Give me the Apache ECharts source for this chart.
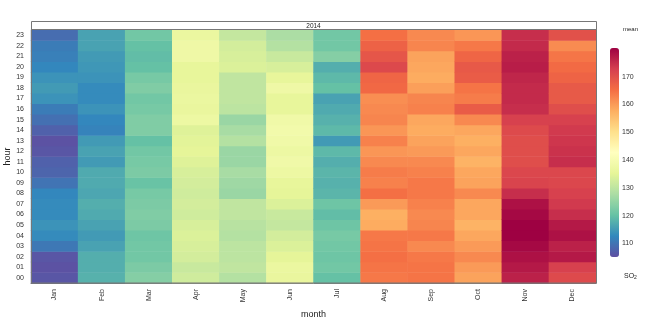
<!DOCTYPE html>
<html>
<head>
<meta charset="utf-8">
<script src="https://cdn.jsdelivr.net/npm/echarts@6/dist/echarts.min.js"></script>
<style>
  html, body { margin: 0; padding: 0; background: #fff; }
  #chart { width: 645px; height: 324px; }
</style>
</head>
<body>
<div id="chart"></div>
<script>
// Mean SO2 by hour of day (00..23) for each month of 2014
const months = ['Jan', 'Feb', 'Mar', 'Apr', 'May', 'Jun', 'Jul', 'Aug', 'Sep', 'Oct', 'Nov', 'Dec'];
const hours = ['00', '01', '02', '03', '04', '05', '06', '07', '08', '09', '10', '11',
               '12', '13', '14', '15', '16', '17', '18', '19', '20', '21', '22', '23'];

const jan = [106, 105.5, 106, 110.5, 113, 114, 113, 113, 112.5, 110, 108, 107.5,
             106, 105.5, 107.5, 109.5, 111, 114, 115, 114, 112.5, 111.5, 111, 109];
const feb = [118, 117.5, 117.5, 116, 115, 116, 117, 117.5, 116.5, 117, 117, 115,
             116, 115, 112, 112.5, 114, 113, 113, 114, 114.5, 115, 116, 116];
const mar = [123.5, 122.5, 121.5, 121.5, 121, 122.5, 123, 122.5, 122, 120.5, 122.5, 122,
             121.5, 120, 123, 123, 122, 121.5, 123, 122, 120, 119.5, 120, 121.5];
const apr = [132.3, 131.3, 132.8, 133.3, 133.8, 133.3, 132.3, 132.8, 132.3, 132.8, 133.3, 134.3,
             135.3, 134.8, 134.3, 137.3, 136.3, 136.8, 136.3, 135.8, 135.8, 137.8, 137.8, 136.8];
const may = [128.8, 130.3, 129.8, 129.8, 128.8, 129.3, 130.3, 130.3, 125.8, 126.3, 127.3, 125.8,
             125.8, 128.8, 127.3, 125.8, 129.8, 130.3, 130.3, 130.3, 133.8, 133.3, 132.8, 130.8];
const jun = [136.3, 136.8, 135.3, 133.8, 132.8, 130.8, 131.3, 133.8, 135.3, 135.8, 137.3, 138.3,
             137.3, 138.3, 138.8, 138.3, 135.8, 135.8, 137.8, 135.8, 133.3, 131.3, 128.8, 127.8];
const jul = [120, 121.5, 121, 121.5, 122, 121, 119.5, 121, 118.5, 118, 118.5, 117.5,
             119, 115, 119, 118, 117, 116, 120, 119, 117.5, 123.5, 121.5, 121.5];
const aug = [164, 164.5, 165, 164.5, 164, 158, 157.5, 160, 165, 163, 163.5, 162,
             160.5, 163, 160.5, 162.5, 162, 161.5, 166, 166.5, 171, 169, 167, 165];
const sep = [164.5, 164.5, 164, 162, 164, 162.5, 162, 163, 164, 164, 163, 162,
             160, 159, 158, 158.5, 163, 162.5, 159.5, 158, 158.5, 159, 162.5, 162];
const oct = [159, 160, 162, 160, 158.5, 157, 158.5, 158.5, 162, 159, 158.5, 157,
             158.5, 157.5, 158.5, 162, 168, 163.5, 164.5, 168, 168.5, 166.5, 164, 160.5];
const nov = [176.3, 177.3, 178.3, 179.3, 180.3, 180.3, 179.3, 178.3, 174.8, 171.8, 171.3, 170.3,
             170.3, 170.3, 170.8, 172.3, 174.8, 175.3, 175.3, 175.8, 176.8, 176.3, 175.3, 174.8];
const dec = [170.8, 172.3, 177.3, 176.3, 178.3, 177.3, 174.8, 173.3, 172.3, 171.3, 171.3, 174.8,
             174.3, 173.8, 173.3, 172.3, 170.3, 168.3, 168.3, 166.8, 165.8, 164.3, 161.8, 169.8];

const monthlyMeans = [jan, feb, mar, apr, may, jun, jul, aug, sep, oct, nov, dec];

// Colour key
const keyTicks = [110, 120, 130, 140, 150, 160, 170];
const keyMin = 105.1;
const keyMax = 180.3;
const spectral = ['#5E4FA2', '#3288BD', '#66C2A5', '#ABDDA4', '#E6F598', '#FFFFBF',
                  '#FEE08B', '#FDAE61', '#F46D43', '#D53E4F', '#9E0142'];

const cells = [];
monthlyMeans.forEach((col, m) => col.forEach((v, h) => cells.push([m, h, v])));

const everyOtherMonth = (i) => i % 2 === 1;
const everyFifthHour = (i) => i % 5 === 4;

const axisGrey = '#777';
const labelGrey = '#333';

const chart = echarts.init(document.getElementById('chart'), null, { renderer: 'canvas' });
chart.setOption({
  animation: false,
  textStyle: { fontFamily: 'Liberation Sans, Arial, sans-serif' },
  grid: [
    { left: 31, top: 30, width: 565, height: 253, outerBoundsMode: 'none', containLabel: false },
    { left: 610, top: 48, width: 9, height: 209, outerBoundsMode: 'none', containLabel: false }
  ],
  xAxis: [
    {
      gridIndex: 0, type: 'category', data: months, position: 'bottom',
      name: 'month', nameLocation: 'middle', nameGap: 27, nameMoveOverlap: false,
      nameTextStyle: { fontSize: 9, color: '#222' },
      axisLine: { show: true, lineStyle: { color: axisGrey } },
      axisTick: { alignWithLabel: true, interval: everyOtherMonth, length: 3, lineStyle: { color: axisGrey } },
      axisLabel: { interval: 0, rotate: 90, fontSize: 7, color: labelGrey, margin: 6 },
      splitLine: { show: false }
    },
    {
      gridIndex: 0, type: 'category', data: months, position: 'top', offset: 9,
      axisLine: { show: false },
      axisTick: { alignWithLabel: true, interval: everyOtherMonth, length: 3, lineStyle: { color: axisGrey } },
      axisLabel: { show: false },
      splitLine: { show: false }
    },
    { gridIndex: 1, type: 'value', show: false }
  ],
  yAxis: [
    {
      gridIndex: 0, type: 'category', data: hours,
      name: 'hour', nameLocation: 'middle', nameGap: 19, nameRotate: 90, nameMoveOverlap: false,
      nameTextStyle: { fontSize: 9, color: '#222' },
      axisLine: { show: true, lineStyle: { color: axisGrey } },
      axisTick: { alignWithLabel: true, interval: everyFifthHour, length: 3, lineStyle: { color: axisGrey } },
      axisLabel: { interval: 0, fontSize: 7, color: labelGrey, margin: 7 },
      splitLine: { show: false }
    },
    {
      gridIndex: 0, type: 'category', data: hours, position: 'right',
      axisLine: { show: true, lineStyle: { color: axisGrey } },
      axisTick: { alignWithLabel: true, interval: everyFifthHour, length: 3, lineStyle: { color: axisGrey } },
      axisLabel: { show: false },
      splitLine: { show: false }
    },
    {
      gridIndex: 1, type: 'value', position: 'right', min: keyMin, max: keyMax,
      axisLine: { show: false },
      axisTick: { show: true, customValues: keyTicks, length: 2, lineStyle: { color: axisGrey } },
      axisLabel: { customValues: keyTicks, fontSize: 7, color: labelGrey, margin: 3 },
      splitLine: { show: false }
    }
  ],
  visualMap: {
    type: 'continuous', min: keyMin, max: keyMax, seriesIndex: 0,
    calculable: false, hoverLink: false, orient: 'vertical',
    left: 610, top: 48, padding: 0, itemWidth: 9, itemHeight: 209,
    inRange: { color: spectral }
  },
  graphic: [
    {
      type: 'rect', z: 100, silent: true,
      shape: { x: 31.5, y: 21.5, width: 565, height: 8 },
      style: { fill: '#fff', stroke: axisGrey, lineWidth: 1 }
    },
    {
      type: 'text', z: 101, silent: true, x: 313.5, y: 25.8,
      style: { text: '2014', fontSize: 6.5, fill: '#222', align: 'center', verticalAlign: 'middle',
               fontFamily: 'Liberation Sans, Arial, sans-serif' }
    },
    {
      type: 'rect', z: 100, silent: true,
      shape: { x: 31.5, y: 29.5, width: 565, height: 253.5 },
      style: { fill: 'none', stroke: axisGrey, lineWidth: 1 }
    },
    {
      type: 'text', z: 101, silent: true, x: 623, y: 29,
      style: { text: 'mean', fontSize: 6, fill: '#222', verticalAlign: 'middle',
               fontFamily: 'Liberation Sans, Arial, sans-serif' }
    },
    {
      type: 'text', z: 101, silent: true, x: 624, y: 276,
      style: {
        text: 'SO{sub|2}', fontSize: 7, fill: '#222', verticalAlign: 'middle',
        fontFamily: 'Liberation Sans, Arial, sans-serif',
        rich: { sub: { fontSize: 5, padding: [4, 0, 0, 0], fill: '#222' } }
      }
    }
  ],
  series: [{
    type: 'heatmap', xAxisIndex: 0, yAxisIndex: 0, data: cells,
    itemStyle: { borderWidth: 0 },
    emphasis: { disabled: true }
  }]
});
</script>
</body>
</html>
